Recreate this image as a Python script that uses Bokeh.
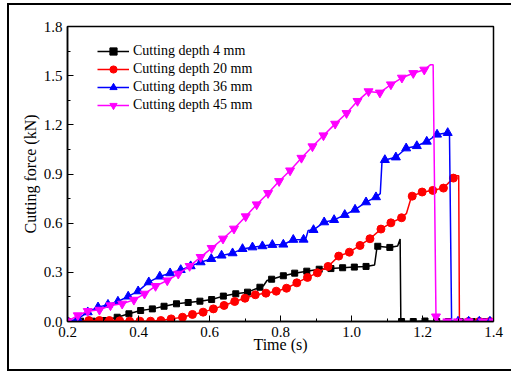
from bokeh.plotting import figure
from bokeh.models import Legend, LegendItem, FixedTicker, Range1d, InlineStyleSheet
from bokeh.embed import file_html
from bokeh.resources import INLINE

# ---- data (line vertices; m_* flags whether a vertex carries a marker) ----
t_4 = [0.2, 0.237, 0.27, 0.303, 0.34, 0.373, 0.406, 0.439, 0.472, 0.507, 0.54, 0.573, 0.606, 0.639,
       0.674, 0.707, 0.742, 0.752, 0.762, 0.775, 0.808, 0.84, 0.874, 0.909, 0.942, 0.975, 1.008, 1.041,
       1.065, 1.072, 1.074, 1.108, 1.13, 1.137, 1.139, 1.141, 1.174, 1.207, 1.24, 1.273, 1.306, 1.34,
       1.373, 1.4]
f_4 = [0.0, 0.002, 0.002, 0.006, 0.026, 0.047, 0.067, 0.077, 0.093, 0.108, 0.116, 0.124, 0.134, 0.155,
       0.169, 0.179, 0.209, 0.218, 0.25, 0.258, 0.279, 0.295, 0.307, 0.319, 0.323, 0.328, 0.332, 0.336,
       0.345, 0.455, 0.459, 0.452, 0.46, 0.504, 0.0, 0.0, 0.0, 0.003, 0.0, 0.0, 0.0, 0.0,
       0.0, 0.0]
m_4 = [1, 1, 1, 1, 1, 1, 1, 1, 1, 1, 1, 1, 1, 1,
       1, 1, 1, 0, 0, 1, 1, 1, 1, 1, 1, 1, 1, 1,
       0, 0, 1, 1, 0, 0, 0, 1, 1, 1, 1, 1, 1, 1,
       1, 1]

t_20 = [0.2, 0.229, 0.26, 0.29, 0.318, 0.347, 0.375, 0.404, 0.434, 0.463, 0.492, 0.524, 0.552, 0.582,
        0.611, 0.641, 0.671, 0.7, 0.729, 0.759, 0.788, 0.817, 0.846, 0.876, 0.904, 0.934, 0.964, 0.994,
        1.024, 1.052, 1.083, 1.111, 1.141, 1.155, 1.168, 1.171, 1.199, 1.229, 1.259, 1.287, 1.29, 1.302,
        1.304, 1.33, 1.36, 1.39]
f_20 = [0.0, 0.0, 0.006, 0.006, 0.006, 0.004, 0.002, 0.002, 0.002, 0.006, 0.016, 0.026, 0.043, 0.057,
        0.077, 0.098, 0.122, 0.142, 0.163, 0.173, 0.185, 0.203, 0.236, 0.269, 0.297, 0.336, 0.399, 0.423,
        0.464, 0.505, 0.564, 0.602, 0.633, 0.66, 0.755, 0.765, 0.79, 0.8, 0.814, 0.875, 0.89, 0.89,
        0.0, 0.0, 0.0, 0.0]
m_20 = [1, 1, 1, 1, 1, 1, 1, 1, 1, 1, 1, 1, 1, 1,
        1, 1, 1, 1, 1, 1, 1, 1, 1, 1, 1, 1, 1, 1,
        1, 1, 1, 1, 1, 0, 0, 1, 1, 1, 1, 1, 0, 0,
        0, 1, 1, 1]

t_36 = [0.2, 0.229, 0.257, 0.286, 0.314, 0.342, 0.371, 0.399, 0.429, 0.46, 0.489, 0.519, 0.547, 0.575,
        0.605, 0.634, 0.665, 0.693, 0.721, 0.749, 0.777, 0.808, 0.836, 0.865, 0.872, 0.878, 0.893, 0.923,
        0.951, 0.981, 1.01, 1.041, 1.069, 1.081, 1.086, 1.094, 1.125, 1.154, 1.184, 1.212, 1.241, 1.271,
        1.276, 1.282, 1.3, 1.33, 1.36, 1.39]
f_36 = [0.0, 0.016, 0.057, 0.087, 0.103, 0.122, 0.153, 0.185, 0.24, 0.275, 0.295, 0.315, 0.338, 0.362,
        0.382, 0.403, 0.417, 0.443, 0.453, 0.46, 0.468, 0.47, 0.499, 0.5, 0.51, 0.555, 0.559, 0.606,
        0.62, 0.651, 0.683, 0.728, 0.759, 0.78, 0.98, 0.986, 1.002, 1.057, 1.071, 1.098, 1.141, 1.151,
        1.145, 0.0, 0.0, 0.0, 0.0, 0.0]
m_36 = [1, 1, 1, 1, 1, 1, 1, 1, 1, 1, 1, 1, 1, 1,
        1, 1, 1, 1, 1, 1, 1, 1, 1, 1, 0, 0, 1, 1,
        1, 1, 1, 1, 1, 0, 0, 1, 1, 1, 1, 1, 1, 1,
        0, 0, 1, 1, 1, 1]

t_45 = [0.2, 0.229, 0.257, 0.29, 0.321, 0.354, 0.387, 0.417, 0.448, 0.481, 0.512, 0.544, 0.575, 0.606,
        0.638, 0.669, 0.702, 0.733, 0.765, 0.796, 0.827, 0.859, 0.89, 0.921, 0.954, 0.986, 1.017, 1.048,
        1.08, 1.111, 1.142, 1.174, 1.205, 1.222, 1.23, 1.238, 1.245, 1.27, 1.3, 1.33, 1.37, 1.4]
f_45 = [0.0, 0.037, 0.063, 0.071, 0.098, 0.108, 0.132, 0.169, 0.216, 0.25, 0.291, 0.338, 0.393, 0.448,
        0.505, 0.566, 0.641, 0.714, 0.783, 0.856, 0.921, 0.998, 1.068, 1.135, 1.206, 1.271, 1.345, 1.404,
        1.396, 1.446, 1.487, 1.515, 1.536, 1.566, 1.566, 0.03, 0.0, 0.0, 0.0, 0.0, 0.0, 0.0]
m_45 = [1, 1, 1, 1, 1, 1, 1, 1, 1, 1, 1, 1, 1, 1,
        1, 1, 1, 1, 1, 1, 1, 1, 1, 1, 1, 1, 1, 1,
        1, 1, 1, 1, 1, 0, 0, 1, 0, 1, 1, 1, 1, 1]

labels = ["Cutting depth 4 mm", "Cutting depth 20 mm", "Cutting depth 36 mm", "Cutting depth 45 mm"]
x_ticks = [0.2, 0.4, 0.6, 0.8, 1.0, 1.2, 1.4]
y_ticks = [0.0, 0.3, 0.6, 0.9, 1.2, 1.5, 1.8]

FONT = "Liberation Serif"

frame_css = InlineStyleSheet(css="""
:host { position: relative; }
:host::after {
  content: "";
  position: absolute;
  left: 7px; top: 3px; width: 504px; height: 368px;
  box-sizing: border-box;
  border: 2.5px solid black; border-right: none;
  pointer-events: none;
}
""")

p = figure(width=511, height=374, output_backend="svg", toolbar_location=None,
           x_range=Range1d(0.2, 1.4), y_range=Range1d(0.0, 1.8),
           min_border_left=67, min_border_right=18, min_border_top=26, min_border_bottom=53,
           stylesheets=[frame_css])
p.xgrid.visible = False
p.ygrid.visible = False
p.outline_line_color = "black"
p.outline_line_width = 1.5
p.background_fill_color = "white"
p.border_fill_color = "white"

series = [
    (t_4, f_4, m_4, "black", "square", 6),
    (t_20, f_20, m_20, "#ff0000", "circle", 8),
    (t_36, f_36, m_36, "#0000ff", "triangle", 9),
    (t_45, f_45, m_45, "#ff00ff", "inverted_triangle", 9),
]

items = []
for (t, f, m, col, mk, sz), lab in zip(series, labels):
    ln = p.line(t, f, line_color=col, line_width=1.5)
    mx = [a for a, k in zip(t, m) if k]
    my = [b for b, k in zip(f, m) if k]
    sc = p.scatter(mx, my, marker=mk, size=sz, fill_color=col, line_color=col)
    items.append(LegendItem(label=lab, renderers=[ln, sc]))

legend = Legend(items=items, location=(30, 207))
legend.label_text_font = FONT
legend.label_text_font_size = "14px"
legend.label_text_color = "black"
legend.border_line_color = None
legend.background_fill_alpha = 0
legend.spacing = 0
legend.padding = 0
legend.margin = 0
legend.glyph_width = 32
legend.glyph_height = 18
legend.label_height = 18
legend.label_standoff = 4
p.add_layout(legend)

for ax in (p.xaxis[0], p.yaxis[0]):
    ax.axis_line_color = "black"
    ax.axis_line_width = 1.5
    ax.major_tick_in = 6
    ax.major_tick_out = 0
    ax.minor_tick_in = 3
    ax.minor_tick_out = 0
    ax.major_tick_line_color = "black"
    ax.minor_tick_line_color = "black"
    ax.major_label_text_font = FONT
    ax.major_label_text_font_size = "15px"
    ax.major_label_text_color = "black"
    ax.axis_label_text_font = FONT
    ax.axis_label_text_font_size = "16px"
    ax.axis_label_text_font_style = "normal"
    ax.axis_label_text_color = "black"

p.xaxis[0].ticker = FixedTicker(ticks=x_ticks, minor_ticks=[0.3, 0.5, 0.7, 0.9, 1.1, 1.3])
p.yaxis[0].ticker = FixedTicker(ticks=y_ticks, minor_ticks=[0.15, 0.45, 0.75, 1.05, 1.35, 1.65])
p.xaxis[0].major_label_overrides = {v: f"{v:.1f}" for v in x_ticks}
p.yaxis[0].major_label_overrides = {v: f"{v:.1f}" for v in y_ticks}
p.xaxis[0].axis_label = "Time (s)"
p.yaxis[0].axis_label = "Cutting force (kN)"
p.xaxis[0].axis_label_standoff = -4
p.yaxis[0].axis_label_standoff = 2
p.xaxis[0].major_label_standoff = 5
p.yaxis[0].major_label_standoff = 5

open("out.html", "w").write(file_html(p, INLINE))
